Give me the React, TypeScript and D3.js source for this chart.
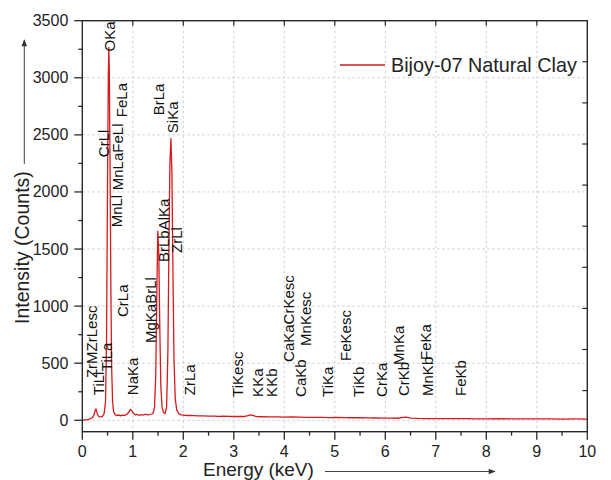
import React from "react";
import * as d3 from "d3";

// EDS spectrum (keV / counts)
const energy = [
  0.0, 0.04, 0.08, 0.12, 0.16, 0.2, 0.23, 0.255, 0.27, 0.285, 0.3, 0.33, 0.36, 0.4, 0.43, 0.46, 0.48, 0.5,
  0.515, 0.525, 0.535, 0.55, 0.565, 0.58, 0.6, 0.62, 0.65, 0.68, 0.72, 0.76, 0.8, 0.84, 0.88, 0.92, 0.95,
  0.98, 1.01, 1.05, 1.09, 1.13, 1.17, 1.21, 1.25, 1.29, 1.33, 1.37, 1.4, 1.43, 1.455, 1.475, 1.495, 1.515,
  1.535, 1.555, 1.58, 1.61, 1.64, 1.67, 1.695, 1.715, 1.735, 1.755, 1.775, 1.795, 1.815, 1.84, 1.87, 1.91,
  1.96, 2.02, 2.1, 2.2, 2.3, 2.4, 2.5, 2.6, 2.7, 2.8, 2.9, 3.0, 3.1, 3.2, 3.28, 3.33, 3.38, 3.45, 3.55, 3.7,
  3.85, 4.0, 4.15, 4.3, 4.45, 4.6, 4.75, 4.9, 5.05, 5.2, 5.35, 5.5, 5.65, 5.8, 5.95, 6.1, 6.25, 6.35, 6.42,
  6.5, 6.65, 6.8, 7.0, 7.2, 7.4, 7.6, 7.8, 8.0, 8.25, 8.5, 8.75, 9.0, 9.25, 9.5, 9.75, 10.0,
];
const counts = [
  0, 3, 4, 8, 14, 22, 45, 85, 98, 80, 50, 32, 30, 34, 55, 160, 700, 2100,
  3000, 3270, 3050, 2200, 1200, 480, 160, 75, 50, 42, 46, 40, 45, 43, 52, 70, 95,
  85, 62, 48, 52, 44, 50, 46, 53, 47, 50, 55, 60, 110, 400, 1100, 1660, 1450,
  800, 300, 110, 65, 60, 120, 600, 1500, 2250, 2470, 2150, 1300, 550, 190, 90, 58,
  48, 44, 42, 40, 38, 39, 36, 37, 35, 36, 34, 33, 34, 33, 40, 47, 42, 32, 31, 30,
  29, 28, 29, 27, 26, 26, 25, 24, 25, 23, 22, 22, 21, 20, 19, 19, 18, 26, 27,
  19, 16, 15, 15, 14, 15, 14, 13, 13, 14, 12, 13, 12, 12, 11, 12, 11,
];

// peak labels: name, energy (keV) and count where the text starts
const labelNames = [
  "ZrMZrLesc", "TiLl", "TiLa", "OKa", "CrLl", "MnLl", "MnLaFeLl", "FeLa", "CrLa", "NaKa",
  "MgKaBrLl", "BrLbAlKa", "BrLa", "SiKa", "ZrLl", "ZrLa", "TiKesc", "KKa", "KKb", "CaKaCrKesc",
  "CaKb", "MnKesc", "TiKa", "FeKesc", "TiKb", "CrKa", "MnKa", "CrKb", "FeKa", "MnKb", "FeKb",
];
const labelEnergy = [
  0.29, 0.43, 0.59, 0.65, 0.53, 0.79, 0.81, 0.89, 0.91, 1.1,
  1.46, 1.72, 1.62, 1.9, 1.97, 2.23, 3.18, 3.58, 3.86, 4.19,
  4.43, 4.53, 4.96, 5.32, 5.58, 6.03, 6.37, 6.47, 6.9, 6.94, 7.6,
];
const labelCounts = [
  370, 220, 430, 3230, 2305, 1690, 2015, 2655, 905, 220,
  677, 1386, 2672, 2515, 1465, 220, 205, 205, 205, 511,
  205, 651, 205, 520, 205, 205, 485, 213, 528, 213, 213,
];

const xTicks = [0, 1, 2, 3, 4, 5, 6, 7, 8, 9, 10];
const yTicks = [0, 500, 1000, 1500, 2000, 2500, 3000, 3500];
const seriesName = "Bijoy-07 Natural Clay";

const W = 611;
const H = 480;
const left = 82.3;
const right = 587.3;
const top = 20.7;
const bottom = 431.7;
const font = "'Liberation Sans', Arial, sans-serif";
const red = "#d7191c";
const axisColor = "#2a2a2a";

export default function App() {
  const x = d3.scaleLinear([0, 10], [left, right]);
  const y = d3.scaleLinear([-100, 3500], [bottom, top]);
  // mirror axis on the right: ten even parts
  const yr = d3.scaleLinear([0, 10], [bottom, top]);

  const line = d3
    .line<number>()
    .x((_, i) => x(energy[i]))
    .y((d) => y(d));

  const xMinor = d3.range(0.5, 10, 1);
  const yMinor = d3.range(250, 3500, 500);

  return (
    <svg
      width={W}
      height={H}
      viewBox={`0 0 ${W} ${H}`}
      style={{ position: "absolute", left: 0, top: 0, background: "#fff" }}
      fontFamily={font}
    >
      <defs>
        <clipPath id="plot">
          <rect x={left} y={top} width={right - left} height={bottom - top} />
        </clipPath>
        <marker id="arrow" viewBox="0 0 10 10" refX="9" refY="5" markerWidth="9" markerHeight="7" orient="auto">
          <path d="M0,1 L10,5 L0,9 Z" fill="#333" />
        </marker>
      </defs>

      {/* grid */}
      <g stroke="#c4c4c4" strokeWidth={0.8} strokeDasharray="2.5,2.5">
        {xTicks.slice(1, -1).map((t) => (
          <line key={"gx" + t} x1={x(t)} x2={x(t)} y1={top} y2={bottom} />
        ))}
        {yTicks.slice(0, -1).map((t) => (
          <line key={"gy" + t} x1={left} x2={right} y1={y(t)} y2={y(t)} />
        ))}
      </g>

      {/* spectrum */}
      <path d={line(counts) ?? ""} fill="none" stroke={red} strokeWidth={1.3} clipPath="url(#plot)" />

      {/* peak labels */}
      <g fontSize={15} fill="#111">
        {labelNames.map((n, i) => (
          <text
            key={n + i}
            transform={`translate(${x(labelEnergy[i])},${y(labelCounts[i])}) rotate(-90)`}
          >
            {n}
          </text>
        ))}
      </g>

      {/* frame */}
      <rect x={left} y={top} width={right - left} height={bottom - top} fill="none" stroke={axisColor} strokeWidth={1.4} />

      {/* left axis */}
      <g stroke={axisColor} strokeWidth={1.3}>
        {yTicks.map((t) => (
          <line key={"ly" + t} x1={left - 8} x2={left} y1={y(t)} y2={y(t)} />
        ))}
        {yMinor.map((t) => (
          <line key={"lym" + t} x1={left - 4} x2={left} y1={y(t)} y2={y(t)} />
        ))}
      </g>
      <g fontSize={16} fill="#222" textAnchor="end">
        {yTicks.map((t) => (
          <text key={"lt" + t} x={left - 14} y={y(t) + 5.5}>
            {t}
          </text>
        ))}
      </g>

      {/* bottom axis */}
      <g stroke={axisColor} strokeWidth={1.3}>
        {xTicks.map((t) => (
          <line key={"bx" + t} x1={x(t)} x2={x(t)} y1={bottom} y2={bottom + 8} />
        ))}
        {xMinor.map((t) => (
          <line key={"bxm" + t} x1={x(t)} x2={x(t)} y1={bottom} y2={bottom + 4} />
        ))}
      </g>
      <g fontSize={16} fill="#222" textAnchor="middle">
        {xTicks.map((t) => (
          <text key={"bt" + t} x={x(t)} y={bottom + 25}>
            {t}
          </text>
        ))}
      </g>

      {/* top and right ticks, inward */}
      <g stroke={axisColor} strokeWidth={1.2}>
        {xTicks.slice(1, -1).map((t) => (
          <line key={"tx" + t} x1={x(t)} x2={x(t)} y1={top} y2={top + 5} />
        ))}
        {yr.ticks(10).slice(1, -1).map((t) => (
          <line key={"ry" + t} x1={right - 5} x2={right} y1={yr(t)} y2={yr(t)} />
        ))}
      </g>

      {/* axis titles with arrows */}
      <text x={203} y={476} fontSize={19} fill="#222">
        Energy (keV)
      </text>
      <line x1={325} x2={495} y1={471.5} y2={471.5} stroke="#444" strokeWidth={1} markerEnd="url(#arrow)" />
      <text transform={`translate(28.5,324) rotate(-90)`} fontSize={19.5} fill="#222">
        Intensity (Counts)
      </text>
      <line x1={24.3} x2={24.3} y1={164} y2={40} stroke="#444" strokeWidth={1} markerEnd="url(#arrow)" />

      {/* legend */}
      <line x1={340} x2={385} y1={65} y2={65} stroke={red} strokeWidth={1.5} />
      <text x={391} y={71.5} fontSize={19.8} fill="#222">
        {seriesName}
      </text>
    </svg>
  );
}
